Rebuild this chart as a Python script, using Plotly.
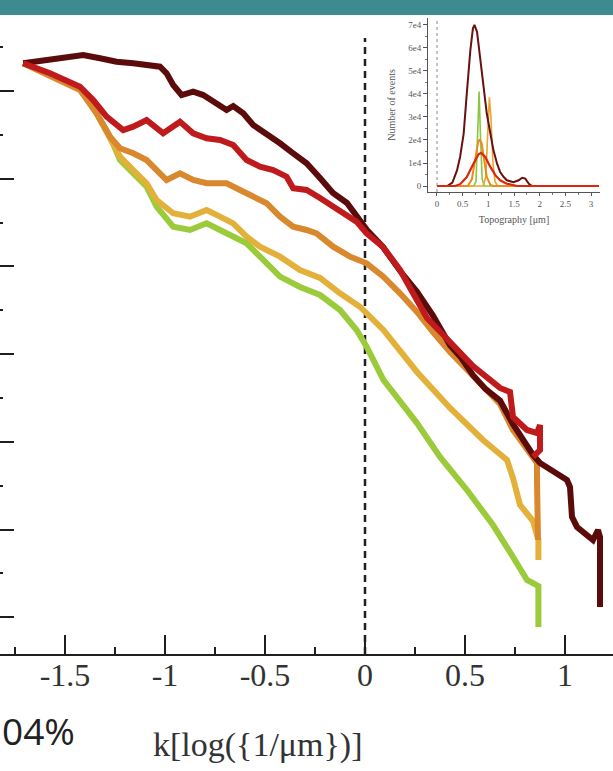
import plotly.graph_objects as go

# ---------------- main spectra: k vs log power ----------------
k_maroon = [-1.709, -1.592, -1.492, -1.409, -1.325, -1.242, -1.159, -1.075, -1.025, -0.992,
            -0.959, -0.917, -0.859, -0.809, -0.759, -0.692, -0.659, -0.609, -0.559, -0.492,
            -0.425, -0.359, -0.292, -0.225, -0.160, -0.090, -0.025, 0.010, 0.090, 0.175,
            0.260, 0.340, 0.425, 0.480, 0.540, 0.603, 0.675, 0.740, 0.840, 0.875, 1.010, 1.025,
            1.035, 1.060, 1.140, 1.165, 1.175, 1.175]
p_maroon = [2.316, 2.353, 2.391, 2.410, 2.373, 2.334, 2.316, 2.297, 2.277, 2.202,
            2.068, 1.954, 1.992, 1.954, 1.878, 1.783, 1.829, 1.746, 1.612, 1.518,
            1.404, 1.290, 1.176, 1.008, 0.837, 0.723, 0.529, 0.415, 0.221, -0.050,
            -0.290, -0.560, -0.900, -1.040, -1.240, -1.400, -1.530, -1.800, -2.150, -2.242,
            -2.436, -2.515, -2.857, -2.971, -3.120, -3.006, -3.086, -3.884]

k_red = [-1.709, -1.575, -1.425, -1.359, -1.292, -1.209, -1.159, -1.092, -1.009, -0.925,
         -0.859, -0.792, -0.725, -0.659, -0.592, -0.525, -0.459, -0.392, -0.359, -0.292,
         -0.225, -0.125, -0.042, 0.008, 0.090, 0.175, 0.310, 0.425, 0.540, 0.675,
         0.725, 0.740, 0.810, 0.860, 0.875, 0.875, 0.840]
p_red = [2.316, 2.202, 2.049, 1.897, 1.707, 1.555, 1.593, 1.669, 1.518, 1.650,
         1.518, 1.461, 1.441, 1.384, 1.213, 1.137, 1.099, 1.023, 0.891, 0.871,
         0.780, 0.643, 0.510, 0.377, 0.221, -0.041, -0.588, -0.862, -1.136, -1.386,
         -1.432, -1.717, -1.865, -1.900, -1.808, -2.094, -2.173]

k_orange = [-1.709, -1.559, -1.425, -1.342, -1.275, -1.225, -1.159, -1.092, -1.042, -0.992,
            -0.925, -0.859, -0.792, -0.692, -0.625, -0.559, -0.492, -0.425, -0.359, -0.292,
            -0.242, -0.159, -0.075, 0.008, 0.092, 0.175, 0.260, 0.340, 0.425, 0.560,
            0.675, 0.740, 0.810, 0.860, 0.860, 0.865]
p_orange = [2.316, 2.163, 2.011, 1.746, 1.479, 1.347, 1.290, 1.213, 1.099, 0.985,
            1.062, 0.985, 0.948, 0.948, 0.871, 0.795, 0.720, 0.567, 0.453, 0.415,
            0.377, 0.225, 0.111, 0.035, -0.118, -0.307, -0.520, -0.748, -0.976, -1.295,
            -1.569, -1.865, -2.094, -2.242, -2.435, -3.120]

k_yellow = [-1.709, -1.559, -1.425, -1.342, -1.275, -1.225, -1.159, -1.092, -1.042, -0.959,
            -0.875, -0.792, -0.725, -0.659, -0.592, -0.525, -0.425, -0.325, -0.225, -0.125,
            -0.025, 0.092, 0.260, 0.425, 0.590, 0.710, 0.740, 0.775, 0.840, 0.867, 0.867]
p_yellow = [2.316, 2.163, 2.031, 1.746, 1.479, 1.251, 1.099, 0.948, 0.757, 0.606,
            0.567, 0.643, 0.567, 0.491, 0.339, 0.225, 0.111, -0.041, -0.132, -0.307,
            -0.460, -0.725, -1.204, -1.614, -1.979, -2.208, -2.413, -2.720, -2.903, -3.120, -3.348]

k_green = [-1.709, -1.559, -1.425, -1.342, -1.275, -1.225, -1.159, -1.092, -1.042, -0.959,
           -0.875, -0.792, -0.725, -0.659, -0.592, -0.525, -0.425, -0.325, -0.225, -0.125,
           -0.042, 0.008, 0.092, 0.260, 0.375, 0.510, 0.640, 0.725, 0.810, 0.867, 0.867]
p_green = [2.316, 2.163, 2.031, 1.746, 1.479, 1.213, 1.062, 0.909, 0.681, 0.453,
           0.415, 0.491, 0.415, 0.339, 0.263, 0.111, -0.117, -0.235, -0.326, -0.497,
           -0.725, -0.916, -1.295, -1.786, -2.173, -2.550, -2.949, -3.257, -3.576, -3.644, -4.112]

main_series = [
    (k_green, p_green, "#9bcb3b"),
    (k_yellow, p_yellow, "#e3b13a"),
    (k_orange, p_orange, "#d9882e"),
    (k_maroon, p_maroon, "#5c0b0b"),
    (k_red, p_red, "#bf1a1c"),
]

x_ticks = [-1.5, -1.0, -0.5, 0.0, 0.5, 1.0]
x_tick_text = ["-1.5", "-1", "-0.5", "0", "0.5", "1"]
y_ticks = [-4, -3, -2, -1, 0, 1, 2, 3]

# ---------------- inset: height histograms ----------------
h_maroon = [0, 0.20, 0.30, 0.39, 0.45, 0.52, 0.58, 0.65, 0.70, 0.73, 0.78, 0.84, 0.91, 0.97,
            1.04, 1.10, 1.17, 1.23, 1.30, 1.36, 1.49, 1.59, 1.66, 1.72, 1.79, 1.85, 3.15]
n_maroon = [0, 0, 1500, 6800, 12600, 22800, 40000, 59000, 68500, 70000, 67000, 56000, 43000, 31500,
            22800, 15500, 9700, 6100, 3900, 2500, 1700, 2500, 3600, 3200, 1000, 0, 0]
h_orange = [0, 0.60, 0.68, 0.75, 0.80, 0.83, 0.87, 0.91, 0.97, 1.04, 1.10, 3.15]
n_orange = [0, 0, 3000, 12600, 19000, 20200, 18500, 12600, 3900, 500, 0, 0]
h_green = [0, 0.72, 0.76, 0.79, 0.82, 0.85, 0.88, 0.92, 3.15]
n_green = [0, 0, 2000, 20000, 41000, 20000, 3000, 0, 0]
h_yellow = [0, 0.90, 0.95, 0.99, 1.02, 1.05, 1.09, 1.13, 1.18, 3.15]
n_yellow = [0, 0, 4000, 25000, 38500, 30000, 10000, 2000, 0, 0]
h_red = [0, 0.35, 0.45, 0.58, 0.71, 0.81, 0.86, 0.94, 1.04, 1.14, 1.23, 1.36, 1.56, 3.15]
n_red = [0, 0, 800, 3900, 9700, 13800, 14400, 12600, 8300, 4600, 2500, 1000, 0, 0]

inset_series = [
    (h_green, n_green, "#8cc63f", 1.6),
    (h_yellow, n_yellow, "#e8a62e", 1.6),
    (h_orange, n_orange, "#ec8a1c", 2.0),
    (h_maroon, n_maroon, "#6a1010", 2.0),
    (h_red, n_red, "#d8280e", 2.2),
]
inset_x_ticks = [0, 0.5, 1, 1.5, 2, 2.5, 3]
inset_x_text = ["0", "0.5", "1", "1.5", "2", "2.5", "3"]
inset_y_ticks = [0, 10000, 20000, 30000, 40000, 50000, 60000, 70000]
inset_y_text = ["0", "1e4", "2e4", "3e4", "4e4", "5e4", "6e4", "7e4"]

W, H = 613, 771
AXIS_PX = 654          # distance of the x-axis line from the top of the page
PLOT_H = AXIS_PX
SERIF = "Liberation Serif, Times New Roman, serif"

fig = go.Figure()

for k, p, c in main_series:
    fig.add_trace(go.Scatter(x=k, y=p, mode="lines", line=dict(color=c, width=6),
                             showlegend=False, hoverinfo="skip", xaxis="x", yaxis="y"))

for h, n, c, w in inset_series:
    fig.add_trace(go.Scatter(x=h, y=n, mode="lines", line=dict(color=c, width=w),
                             showlegend=False, hoverinfo="skip", xaxis="x2", yaxis="y2"))

fig.update_layout(
    width=W, height=H, autosize=False,
    margin=dict(l=0, r=0, t=0, b=H - AXIS_PX, pad=0),
    paper_bgcolor="white", plot_bgcolor="white",
    xaxis=dict(
        range=[-1.825, 1.24], domain=[0, 1],
        showgrid=False, zeroline=False,
        showline=True, linecolor="#1e1e1e", linewidth=2,
        tickmode="array", tickvals=x_ticks, ticktext=x_tick_text,
        ticks="inside", ticklen=19, tickwidth=2, tickcolor="#1e1e1e",
        ticklabelstandoff=-8,
        minor=dict(tickmode="linear", tick0=0.25, dtick=0.5, ticks="inside",
                   ticklen=7, tickwidth=2, tickcolor="#1e1e1e"),
        tickfont=dict(family=SERIF, size=32, color="#333333"),
    ),
    yaxis=dict(
        range=[-4.4196, 3.0376], domain=[0, 1],
        showgrid=False, zeroline=False, showline=False,
        tickmode="array", tickvals=y_ticks, showticklabels=False,
        ticks="inside", ticklen=14, tickwidth=2, tickcolor="#1e1e1e",
        minor=dict(tickmode="linear", tick0=0.5, dtick=1, ticks="inside",
                   ticklen=3, tickwidth=2, tickcolor="#1e1e1e"),
    ),
    xaxis2=dict(
        domain=[428 / W, 600 / W], anchor="y2", range=[-0.175, 3.175],
        showgrid=False, zeroline=False,
        showline=True, linecolor="#555555", linewidth=1,
        tickmode="array", tickvals=inset_x_ticks, ticktext=inset_x_text,
        ticks="outside", ticklen=3, tickcolor="#555555",
        minor=dict(tickmode="linear", tick0=0.25, dtick=0.5, ticks="outside",
                   ticklen=2, tickcolor="#777777"),
        tickfont=dict(family=SERIF, size=9, color="#555555"),
        title=dict(text="Topography [μm]", standoff=8,
                   font=dict(family=SERIF, size=10, color="#555555")),
    ),
    yaxis2=dict(
        domain=[1 - 192 / PLOT_H, 1 - 18 / PLOT_H], anchor="x2", range=[-2600, 73000],
        showgrid=False, zeroline=False,
        showline=True, linecolor="#555555", linewidth=1,
        tickmode="array", tickvals=inset_y_ticks, ticktext=inset_y_text,
        ticks="outside", ticklen=4, tickcolor="#555555",
        minor=dict(tickmode="linear", tick0=5000, dtick=10000, ticks="outside",
                   ticklen=2, tickcolor="#777777"),
        tickfont=dict(family=SERIF, size=9, color="#555555"),
        title=dict(text="Number of events", standoff=10,
                   font=dict(family=SERIF, size=10, color="#555555")),
    ),
    shapes=[
        # dashed guide at k = 0
        dict(type="line", xref="x", yref="paper", x0=0, x1=0, y0=0, y1=1 - 38 / PLOT_H,
             line=dict(color="#1e1e1e", width=2.5, dash="7px,5px"), layer="below"),
        # dotted guide at zero height inside the inset
        dict(type="line", xref="x2", yref="y2", x0=0, x1=0, y0=-2600, y1=73000,
             line=dict(color="#888888", width=1, dash="dot"), layer="below"),
        # header band
        dict(type="rect", xref="paper", yref="paper", x0=0, x1=1, y0=1 - 15 / PLOT_H, y1=1.0,
             fillcolor="#3d8a91", line=dict(width=0), layer="above"),
    ],
    annotations=[
        dict(text="04%", xref="paper", yref="paper", x=0, y=(AXIS_PX - 730) / PLOT_H,
             xanchor="left", yanchor="middle", showarrow=False,
             font=dict(family="Open Sans, sans-serif", size=37, color="#222222")),
        dict(text="k[log({1/μm})]", xref="paper", yref="paper", x=258 / W,
             y=(AXIS_PX - 745) / PLOT_H, xanchor="center", yanchor="middle", showarrow=False,
             font=dict(family=SERIF, size=34, color="#333333")),
    ],
)

fig.write_html("out.html")
